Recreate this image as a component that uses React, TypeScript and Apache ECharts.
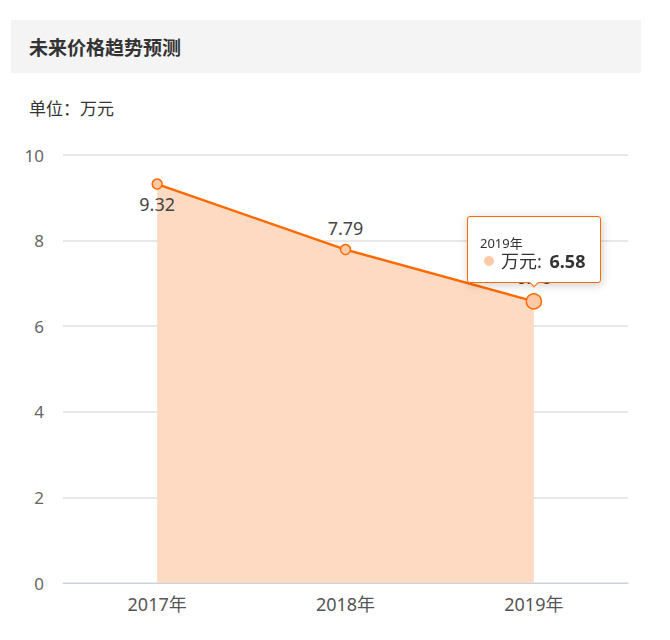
import React, { useRef, useEffect } from 'react';
import * as echarts from 'echarts';

const years = ['2017年', '2018年', '2019年'];
const prices = [9.32, 7.79, 6.58];
const labelSides = ['bottom', 'top', 'top'];
const activeIndex = 2;

const FONT = '"Noto Sans", "Noto Sans CJK SC", sans-serif';

export default function App() {
  const chartRef = useRef<HTMLDivElement>(null);

  useEffect(() => {
    if (!chartRef.current) return;
    const chart = echarts.init(chartRef.current, null, { renderer: 'svg' });

    const data = prices.map((v, i) => ({
      value: v,
      symbolSize: i === activeIndex ? 15 : 10,
      label: { position: labelSides[i], distance: labelSides[i] === 'bottom' ? 5 : 7 },
    }));

    const option: echarts.EChartsOption = {
      animation: false,
      textStyle: { fontFamily: FONT },
      graphic: [
        {
          type: 'rect',
          shape: { x: 11, y: 20, width: 630, height: 53 },
          style: { fill: '#f4f4f4' },
          silent: true,
        },
        {
          type: 'text',
          x: 29,
          y: 48,
          style: {
            text: '未来价格趋势预测',
            fontSize: 19,
            fontWeight: 'bold',
            fill: '#333',
            fontFamily: FONT,
            verticalAlign: 'middle',
          },
        },
        {
          type: 'text',
          x: 29,
          y: 107,
          style: {
            text: '单位：万元',
            fontSize: 17,
            fill: '#333',
            fontFamily: '"Noto Sans CJK SC", sans-serif',
            verticalAlign: 'middle',
          },
        },
      ],
      tooltip: {
        trigger: 'item',
        position: 'top',
        transitionDuration: 0,
        backgroundColor: '#fff',
        borderColor: '#ff6a00',
        borderWidth: 1,
        borderRadius: 3,
        padding: [18, 15, 11, 12],
        formatter: (p: any) =>
          `<div style="font-size:13px;color:#333;line-height:16px">${p.name}</div>` +
          `<div style="font-size:18px;color:#333;line-height:20px;white-space:nowrap">` +
          `<span style="display:inline-block;width:10px;height:10px;border-radius:5px;background:#fdcaa8;margin:0 7px 2px 4px"></span>` +
          `万元: <b style="margin-left:3px">${p.value}</b></div>`,
      },
      grid: { left: 63, right: 42, top: 155, bottom: 57 },
      xAxis: {
        type: 'category',
        data: years,
        boundaryGap: true,
        axisLine: { lineStyle: { color: '#c9d3e0' } },
        axisTick: { length: 10, lineStyle: { color: '#c9d3e0' } },
        axisLabel: { color: '#555', fontSize: 18, margin: 12, fontFamily: FONT },
      },
      yAxis: {
        type: 'value',
        min: 0,
        max: 10,
        interval: 2,
        axisLine: { show: false },
        axisTick: { show: false },
        axisLabel: { color: '#666', fontSize: 17, margin: 19, fontFamily: FONT },
        splitLine: { lineStyle: { color: '#e0e0e0', width: 1.5 } },
      },
      series: [
        {
          name: '万元',
          type: 'line',
          data,
          symbol: 'circle',
          itemStyle: { color: '#fdcaa8', borderColor: '#ff6a00', borderWidth: 1.5 },
          lineStyle: { color: '#ff6a00', width: 2.5 },
          areaStyle: { color: '#fddac1', opacity: 1 },
          label: { show: true, fontSize: 18, color: '#444', fontFamily: FONT },
          emphasis: { scale: false },
        },
      ],
    };

    chart.setOption(option);
    chart.dispatchAction({ type: 'showTip', seriesIndex: 0, dataIndex: activeIndex });

    return () => {
      chart.dispose();
    };
  }, []);

  return (
    <div
      ref={chartRef}
      style={{ position: 'absolute', left: 0, top: 0, width: 670, height: 640, background: '#fff' }}
    />
  );
}
